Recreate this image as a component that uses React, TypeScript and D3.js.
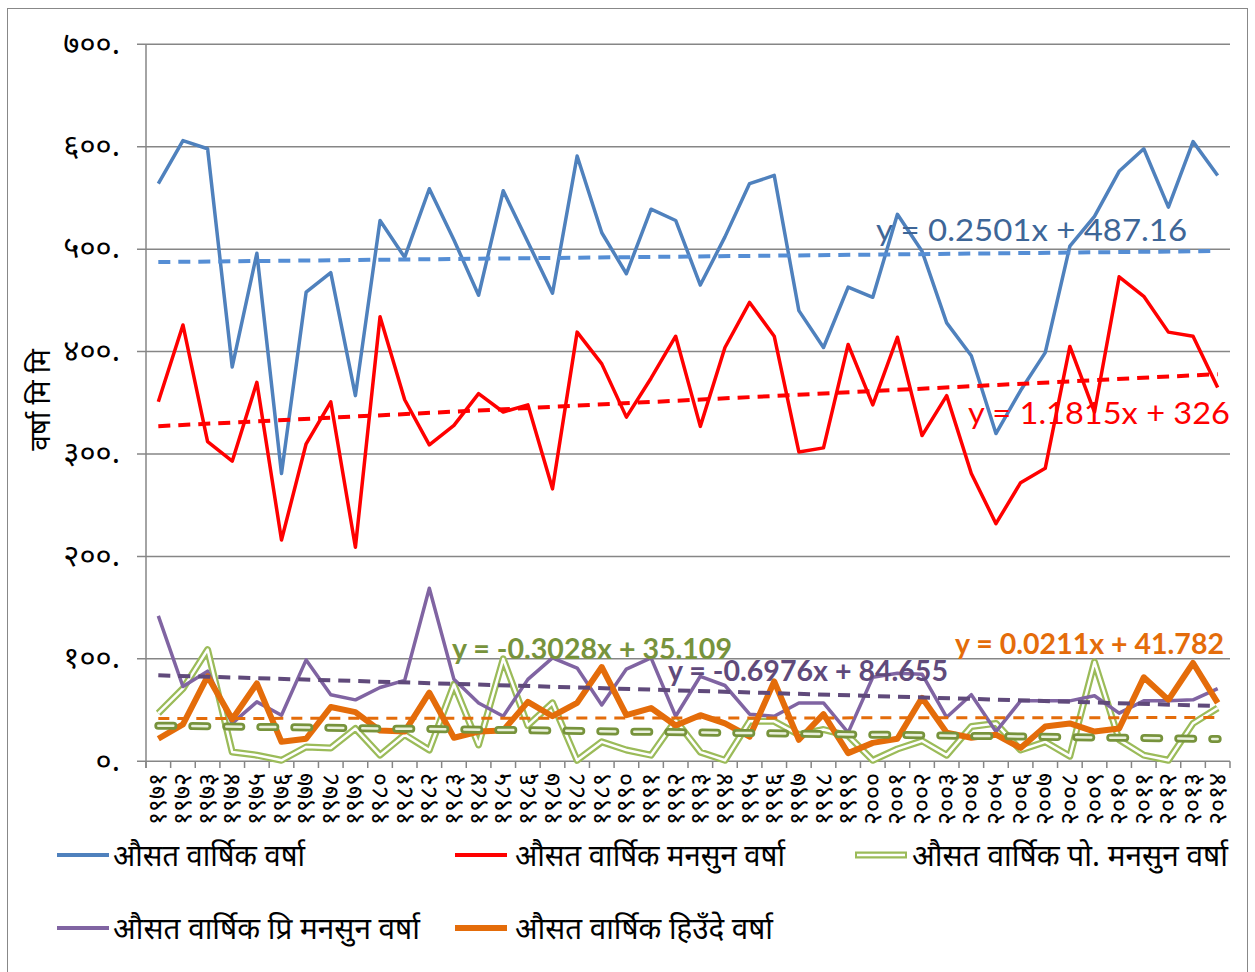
import React from 'react';
import * as d3 from 'd3';

const years = [1971,1972,1973,1974,1975,1976,1977,1978,1979,1980,1981,1982,1983,1984,1985,1986,1987,1988,1989,1990,1991,1992,1993,1994,1995,1996,1997,1998,1999,2000,2001,2002,2003,2004,2005,2006,2007,2008,2009,2010,2011,2012,2013,2014];

const annual = [564,606,598,385,496,281,458,477,357,528,492,559,509,455,557,507,457,591,516,476,539,528,465,512,564,572,440,404,463,453,534,498,428,396,320,362,399,503,532,576,598,541,605,572];
const monsoon = [351,426,312,293,370,216,310,351,209,434,353,309,328,359,341,348,266,419,388,336,374,415,327,404,448,415,302,306,407,348,414,318,357,281,232,272,286,405,341,473,454,419,415,365];
const postMonsoon = [47,71,109,9,6,1,14,13,32,6,26,11,75,16,100,35,57,1,19,11,6,40,9,1,39,39,26,31,25,1,12,20,6,34,37,11,19,5,97,21,6,1,37,52];
const preMonsoon = [142,73,88,37,58,45,99,65,60,72,79,169,80,57,44,80,101,91,55,90,101,44,83,74,46,44,57,57,28,82,86,85,43,65,29,59,59,59,64,47,59,59,60,71];
const winter = [22,36,83,41,76,19,22,53,48,30,29,67,23,29,30,58,44,57,92,45,52,35,45,37,24,78,21,46,8,18,22,62,28,23,26,13,34,37,29,32,82,60,96,57];

const yTicks = [0,100,200,300,400,500,600,700];
const yTickLabels = ['०.','१००.','२००.','३००.','४००.','५००.','६००.','७००.'];

const seriesNames = ['औसत वार्षिक वर्षा','औसत वार्षिक मनसुन वर्षा','औसत वार्षिक पो. मनसुन वर्षा','औसत वार्षिक प्रि मनसुन वर्षा','औसत वार्षिक हिउँदे वर्षा'];
const trendSlopes = [0.2501, 1.1815, -0.3028, -0.6976, 0.0211];
const trendIntercepts = [487.16, 326, 35.109, 84.655, 41.782];
const trendLabels = ['y = 0.2501x + 487.16','y = 1.1815x + 326','y = -0.3028x + 35.109','y = -0.6976x + 84.655','y = 0.0211x + 41.782'];

const devDigits = ['०','१','२','३','४','५','६','७','८','९'];
const toDev = (n: number) => String(n).split('').map(c => devDigits[+c]).join('');

const DEV = "'Noto Sans Devanagari','Lohit Devanagari','Mangal','Noto Sans',sans-serif";
const LAT = "Lato, 'Open Sans', sans-serif";

export default function App() {
  const left = 146, right = 1230, top = 44.3, bottom = 761.3;
  const x = d3.scaleBand<number>().domain(years).range([left, right]);
  const cx = (yr: number) => (x(yr) as number) + x.bandwidth() / 2;
  const y = d3.scaleLinear().domain([0, 700]).range([bottom, top]);
  const line = d3.line<number>().x((_, i) => cx(years[i])).y(d => y(d));

  const trendPath = (k: number) => {
    const a = trendSlopes[k], b = trendIntercepts[k];
    const pts = years.map((yr, i) => [cx(yr), y(a * (i + 1) + b)] as [number, number]);
    return d3.line()([pts[0], pts[pts.length - 1]]) as string;
  };

  const boundaries = d3.range(years.length + 1).map(i => left + i * x.bandwidth());

  return (
    <svg width={1255} height={972} style={{ position: 'absolute', left: 0, top: 0 }}>
      <rect x={0} y={0} width={1255} height={972} fill="#fff" />
      <rect x={7.5} y={8.5} width={1240} height={970} fill="none" stroke="#888" strokeWidth={1} />
      {yTicks.map(t => (
        <line key={t} x1={137} x2={right} y1={y(t)} y2={y(t)} stroke="#868686" strokeWidth={1.5} />
      ))}
      <line x1={left} x2={left} y1={top} y2={768} stroke="#868686" strokeWidth={1.5} />
      {boundaries.map((bx, i) => (
        <line key={i} x1={bx} x2={bx} y1={bottom} y2={768} stroke="#868686" strokeWidth={1.5} />
      ))}
      {yTicks.map((t, i) => (
        <text key={t} x={120} y={y(t)} dy="0.3em" textAnchor="end" fontFamily={DEV} fontSize={31} fill="#000">{yTickLabels[i]}</text>
      ))}
      <text transform="translate(40,400) rotate(-90)" textAnchor="middle" dy="0.35em" fontFamily={DEV} fontSize={28} fill="#000">वर्षा मि मि</text>
      {years.map(yr => (
        <text key={yr} transform={`translate(${cx(yr)},773) rotate(-90)`} textAnchor="end" dy="0.32em" fontFamily={DEV} fontSize={25} fill="#000">{toDev(yr)}</text>
      ))}

      <path d={line(annual) as string} fill="none" stroke="#4F81BD" strokeWidth={3.5} strokeLinejoin="round" />
      <path d={line(monsoon) as string} fill="none" stroke="#FF0000" strokeWidth={3.5} strokeLinejoin="round" />
      <path d={line(postMonsoon) as string} fill="none" stroke="#9BBB59" strokeWidth={7} strokeLinejoin="round" />
      <path d={line(postMonsoon) as string} fill="none" stroke="#fff" strokeWidth={2.5} strokeLinejoin="round" />
      <path d={line(preMonsoon) as string} fill="none" stroke="#8064A2" strokeWidth={3.5} strokeLinejoin="round" />
      <path d={line(winter) as string} fill="none" stroke="#E46C0A" strokeWidth={6} strokeLinejoin="round" />

      <path d={trendPath(0)} stroke="#558ED5" strokeWidth={4} strokeDasharray="12 8" fill="none" />
      <path d={trendPath(1)} stroke="#FF0000" strokeWidth={4} strokeDasharray="12 8" fill="none" />
      <path d={trendPath(2)} stroke="#77933C" strokeWidth={8} strokeDasharray="15 19" strokeLinecap="round" fill="none" />
      <path d={trendPath(2)} stroke="#EAF1DD" strokeWidth={2.5} strokeDasharray="15 19" strokeLinecap="round" fill="none" />
      <path d={trendPath(3)} stroke="#604A7B" strokeWidth={4} strokeDasharray="12 8" fill="none" />
      <path d={trendPath(4)} stroke="#E46C0A" strokeWidth={3} strokeDasharray="11 8" fill="none" />

      <text x={876} y={241} fontFamily={LAT} fontSize={30} fill="#3E6697" textLength={311} lengthAdjust="spacingAndGlyphs">{trendLabels[0]}</text>
      <text x={968} y={424} fontFamily={LAT} fontSize={30} fill="#FF0000" textLength={262} lengthAdjust="spacingAndGlyphs">{trendLabels[1]}</text>
      <text x={452} y={659} fontFamily={LAT} fontSize={28} fontWeight="bold" fill="#77933C" textLength={280} lengthAdjust="spacingAndGlyphs">{trendLabels[2]}</text>
      <text x={668} y={681} fontFamily={LAT} fontSize={28} fontWeight="bold" fill="#604A7B" textLength={280} lengthAdjust="spacingAndGlyphs">{trendLabels[3]}</text>
      <text x={955} y={654} fontFamily={LAT} fontSize={28} fontWeight="bold" fill="#E46C0A" textLength={269} lengthAdjust="spacingAndGlyphs">{trendLabels[4]}</text>

      {[
        { x: 57, y: 855, c: '#4F81BD', w: 4, tx: 113, tw: 192 },
        { x: 455, y: 855, c: '#FF0000', w: 4, tx: 515, tw: 270 },
        { x: 855, y: 855, c: '#9BBB59', w: 7, tx: 912, tw: 316, dbl: true },
        { x: 57, y: 928, c: '#8064A2', w: 4, tx: 113, tw: 307 },
        { x: 455, y: 928, c: '#E46C0A', w: 6, tx: 515, tw: 258 },
      ].map((l, i) => (
        <g key={i}>
          <line x1={l.x} x2={l.x + 52} y1={l.y} y2={l.y} stroke={l.c} strokeWidth={l.w} />
          {l.dbl && <line x1={l.x + 2} x2={l.x + 50} y1={l.y} y2={l.y} stroke="#fff" strokeWidth={2.5} />}
          <text x={l.tx} y={l.y} dy="0.35em" fontFamily={DEV} fontSize={30} fill="#000" textLength={l.tw} lengthAdjust="spacingAndGlyphs">{seriesNames[i]}</text>
        </g>
      ))}
    </svg>
  );
}
